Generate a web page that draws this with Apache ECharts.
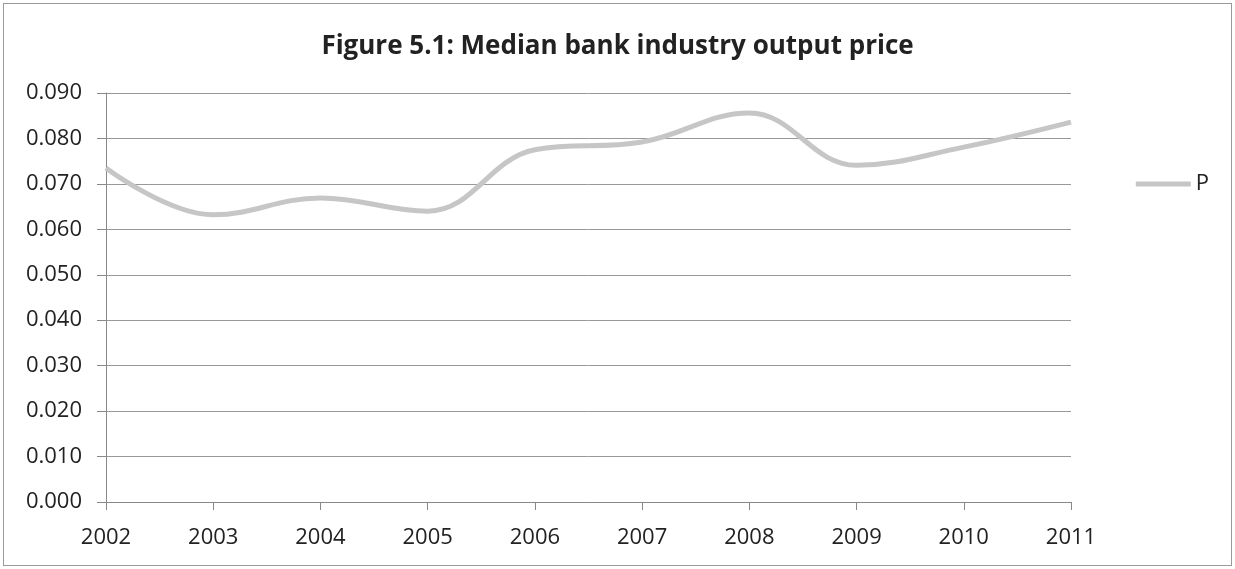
<!DOCTYPE html>
<html><head><meta charset="utf-8">
<script src="https://cdn.jsdelivr.net/npm/echarts@6/dist/echarts.min.js"></script>
<style>html,body{margin:0;padding:0;background:#fff}#c{width:1235px;height:569px}
#frame{position:absolute;left:3px;top:3px;width:1227px;height:561px;border:1px solid #9a9a9a;pointer-events:none}</style>
</head><body><div id="c"></div><div id="frame"></div>
<script>
const years = ['2002','2003','2004','2005','2006','2007','2008','2009','2010','2011'];
const P = [0.0735, 0.0632, 0.0669, 0.0640, 0.0775, 0.0792, 0.0856, 0.0741, 0.0781, 0.0836];
const chart = echarts.init(document.getElementById('c'));
chart.setOption({
  animation:false,
  title:{text:'Figure 5.1: Median bank industry output price',left:'center',top:29,
    textStyle:{fontFamily:'Open Sans',fontWeight:'bold',fontSize:26,color:'#222'}},
  legend:{right:21,top:168,itemWidth:55,itemHeight:5,icon:'rect',itemGap:5,
    textStyle:{fontFamily:'Open Sans',fontSize:22,color:'#222'},data:['P']},
  grid:{left:106,right:164,top:93,bottom:67},
  xAxis:{type:'category',data:years,boundaryGap:false,
    axisLine:{lineStyle:{color:'#888'}},axisTick:{show:true,length:8,lineStyle:{color:'#888'}},
    axisLabel:{fontFamily:'Open Sans',fontSize:22,color:'#222',margin:25},
    splitLine:{show:false}},
  yAxis:{type:'value',min:0,max:0.09,interval:0.01,
    axisLine:{show:true,lineStyle:{color:'#888'}},axisTick:{show:true,length:9,lineStyle:{color:'#888'}},
    axisLabel:{fontFamily:'Open Sans',fontSize:22,color:'#222',margin:24,formatter:v=>v.toFixed(3)},
    splitLine:{lineStyle:{color:'#999',width:1}}},
  series:[{name:'P',type:'line',data:P,smooth:0.4,showSymbol:false,
    lineStyle:{color:'#c6c6c6',width:5},itemStyle:{color:'#c6c6c6'}}]
});
</script></body></html>
